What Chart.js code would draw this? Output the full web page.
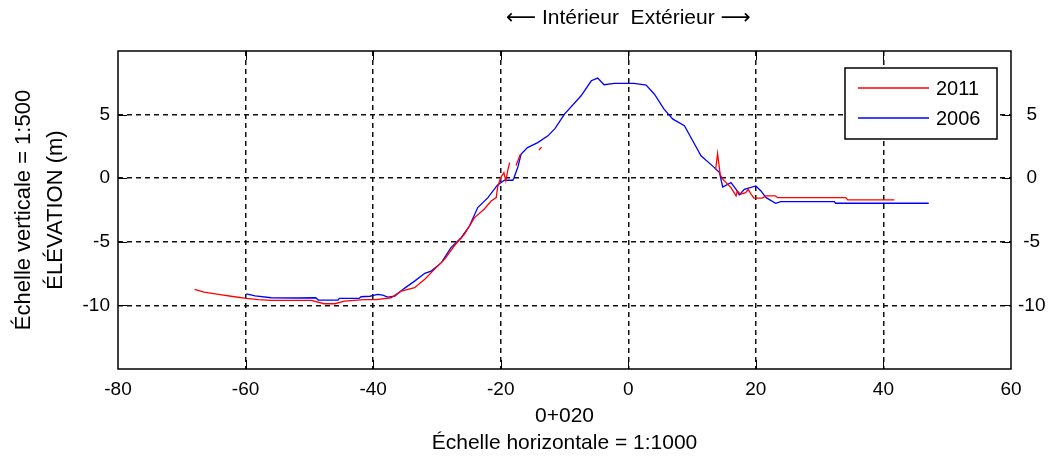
<!DOCTYPE html>
<html>
<head>
<meta charset="utf-8">
<script src="https://cdn.jsdelivr.net/npm/chart.js@4/dist/chart.umd.min.js"></script>
<style>
  html, body { margin: 0; padding: 0; background: #fff; }
  #cadre { width: 1057px; height: 457px; }
</style>
</head>
<body>
<div id="cadre"><canvas id="profil" width="1057" height="457"></canvas></div>
<script>
// Profil 2011 (null = trou dans le relevé)
const distance2011 = [-68.0, -66.5, -64.0, -62.0, -59.9, -58.0, -56.0, -52.0, -49.7, -47.7, -46.0, -44.5,
  -41.4, -39.5, -37.2, -35.6, -33.5, -31.9, -30.4, -28.8, -27.3, -25.7, -24.1, -22.6, -21.5, -20.7,
  -20.5, -20.0, -19.5, -19.2, -18.9, -18.6, -18.1, -17.6, -16.9, -15.0, -14.0, -13.6, 0.0,
  13.7, 14.0, 14.4, 14.8, 16.1, 16.9, 17.1, 17.6, 18.4, 18.8, 19.2, 19.7, 21.0, 21.6, 23.1, 23.4,
  34.1, 34.4, 41.7];
const elevation2011 = [-8.74, -8.95, -9.15, -9.30, -9.45, -9.55, -9.60, -9.60, -9.60, -9.87, -9.87, -9.66,
  -9.55, -9.55, -9.40, -8.87, -8.61, -7.95, -7.17, -6.38, -5.33, -4.41, -3.10, -2.44, -1.79, -1.53,
  -0.74, 0.05, 0.44, -0.21, 0.60, 1.23, null, 1.00, 1.90, null, 2.20, 2.45, null,
  0.70, 1.94, 0.31, -0.08, -0.74, -1.39, -1.00, -1.26, -1.13, -0.87, -1.21, -1.57, -1.57, -1.39, -1.39, -1.53,
  -1.53, -1.71, -1.71];

// Profil 2006
const distance2006 = [-59.9, -58.5, -56.0, -52.0, -49.0, -48.6, -45.5, -45.3, -42.2, -41.9, -40.5, -39.3,
  -38.5, -37.7, -36.6, -35.1, -33.5, -31.9, -30.9, -29.3, -27.8, -26.2, -24.9, -23.6, -22.0, -20.5,
  -19.4, -18.1, -17.9, -17.3, -16.8, -15.8, -14.2, -12.6, -11.5, -10.0, -7.4, -5.8, -4.8, -3.8, -2.2,
  0.9, 2.8, 4.1, 5.6, 7.0, 8.8, 10.1, 11.4, 13.2, 14.3, 14.8, 16.1, 16.9, 17.4, 18.2, 20.0, 20.8,
  21.6, 23.1, 23.9, 32.3, 32.5, 47.1];
const elevation2006 = [-9.10, -9.25, -9.40, -9.42, -9.40, -9.58, -9.58, -9.45, -9.45, -9.32, -9.28, -9.13,
  -9.20, -9.35, -9.27, -8.66, -8.09, -7.48, -7.30, -6.64, -5.46, -4.68, -3.76, -2.31, -1.53, -0.53,
  -0.16, -0.16, 0.05, 0.90, 1.89, 2.41, 2.80, 3.33, 3.90, 5.04, 6.48, 7.66, 7.87, 7.35, 7.45,
  7.45, 7.32, 6.60, 5.43, 4.64, 4.12, 2.94, 1.76, 0.97, 0.44, -0.69, -0.35, -0.87, -1.31, -0.87, -0.61, -1.00,
  -1.53, -1.97, -1.84, -1.84, -1.97, -1.97];

const annees = ['2011', '2006'];
const couleurs = ['#ff0000', '#0000ff'];
const titreHaut = '\u27f5 Intérieur  Extérieur \u27f6';
const titreY = ['Échelle verticale = 1:500', 'ÉLÉVATION (m)'];
const titreX = ['0+020', 'Échelle horizontale = 1:1000'];

const police = '"Liberation Sans", Arial, "DejaVu Sans", sans-serif';
Chart.defaults.font.family = police;
Chart.defaults.color = '#000';

const versPoints = (xs, ys) => xs.map((d, i) => ({ x: d, y: ys[i] }));
const bordY = v => v === 10 || v === -15;
const bordX = v => v === -80 || v === 60;

// Cadre, petites graduations, titre du haut et légende
const cadrePlugin = {
  id: 'cadrePlugin',
  afterDraw(chart) {
    const { ctx, chartArea: a, scales: { x, y } } = chart;
    ctx.save();
    ctx.strokeStyle = '#000';
    ctx.lineWidth = 1;
    ctx.beginPath();
    x.ticks.forEach(t => {
      if (bordX(t.value)) return;
      const px = Math.round(x.getPixelForValue(t.value)) + 0.5;
      ctx.moveTo(px, a.bottom); ctx.lineTo(px, a.bottom - 9);
      ctx.moveTo(px, a.top); ctx.lineTo(px, a.top + 9);
    });
    y.ticks.forEach(t => {
      if (bordY(t.value)) return;
      const py = Math.round(y.getPixelForValue(t.value)) + 0.5;
      ctx.moveTo(a.left, py); ctx.lineTo(a.left + 9, py);
      ctx.moveTo(a.right, py); ctx.lineTo(a.right - 9, py);
    });
    ctx.stroke();
    ctx.lineWidth = 1.5;
    ctx.strokeRect(a.left, a.top, a.right - a.left, a.bottom - a.top);

    // titre du haut, centré sur 0
    ctx.fillStyle = '#000';
    ctx.font = '21px ' + police;
    ctx.textAlign = 'center';
    ctx.textBaseline = 'middle';
    ctx.fillText(titreHaut, x.getPixelForValue(0), 18);

    // légende
    const lx = a.right - 166, ly = a.top + 17;
    ctx.fillStyle = '#fff';
    ctx.fillRect(lx, ly, 152, 71);
    ctx.lineWidth = 1.5;
    ctx.strokeRect(lx, ly, 152, 71);
    ctx.font = '20px ' + police;
    ctx.textAlign = 'left';
    chart.data.datasets.forEach((ds, i) => {
      const yy = ly + 20 + i * 30;
      ctx.strokeStyle = ds.borderColor;
      ctx.lineWidth = 1.4;
      ctx.beginPath();
      ctx.moveTo(lx + 13, yy); ctx.lineTo(lx + 84, yy);
      ctx.stroke();
      ctx.fillStyle = '#000';
      ctx.fillText(ds.label, lx + 91, yy + 1);
    });
    ctx.restore();
  }
};

new Chart(document.getElementById('profil'), {
  type: 'line',
  data: {
    datasets: [
      { label: annees[0], data: versPoints(distance2011, elevation2011), borderColor: couleurs[0], borderWidth: 1.3, pointRadius: 0, spanGaps: false, tension: 0 },
      { label: annees[1], data: versPoints(distance2006, elevation2006), borderColor: couleurs[1], borderWidth: 1.3, pointRadius: 0, spanGaps: false, tension: 0 }
    ]
  },
  options: {
    responsive: false,
    animation: false,
    events: [],
    layout: { padding: { top: 51, left: 0, right: 0, bottom: 0 } },
    plugins: { legend: { display: false }, tooltip: { enabled: false } },
    scales: {
      x: {
        type: 'linear', position: 'bottom', min: -80, max: 60,
        afterFit: s => { s.height = 88; },
        ticks: { stepSize: 20, padding: 9, font: { size: 19 } },
        grid: { color: c => bordX(c.tick.value) ? 'transparent' : '#111', drawTicks: false, lineWidth: 1.5 },
        border: { display: false, dash: [5, 4] },
        title: { display: true, text: titreX, font: { size: 21, lineHeight: 27 / 21 }, padding: { top: 0, bottom: 0 } }
      },
      y: {
        type: 'linear', position: 'left', min: -15, max: 10,
        afterFit: s => { s.width = 118; },
        ticks: { stepSize: 5, padding: 8, font: { size: 19 }, callback: v => bordY(v) ? '' : v },
        grid: { color: c => bordY(c.tick.value) ? 'transparent' : '#111', drawTicks: false, lineWidth: 1.5 },
        border: { display: false, dash: [5, 4] },
        title: { display: true, text: titreY, font: { size: 22, lineHeight: 32 / 22 }, padding: { top: 8, bottom: 0 } }
      },
      y2: {
        type: 'linear', position: 'right', min: -15, max: 10,
        afterFit: s => { s.width = 46; },
        ticks: { stepSize: 5, padding: 7, crossAlign: 'center', font: { size: 19 }, callback: v => bordY(v) ? '' : v },
        grid: { drawOnChartArea: false, drawTicks: false },
        border: { display: false }
      }
    }
  },
  plugins: [cadrePlugin]
});
</script>
</body>
</html>
